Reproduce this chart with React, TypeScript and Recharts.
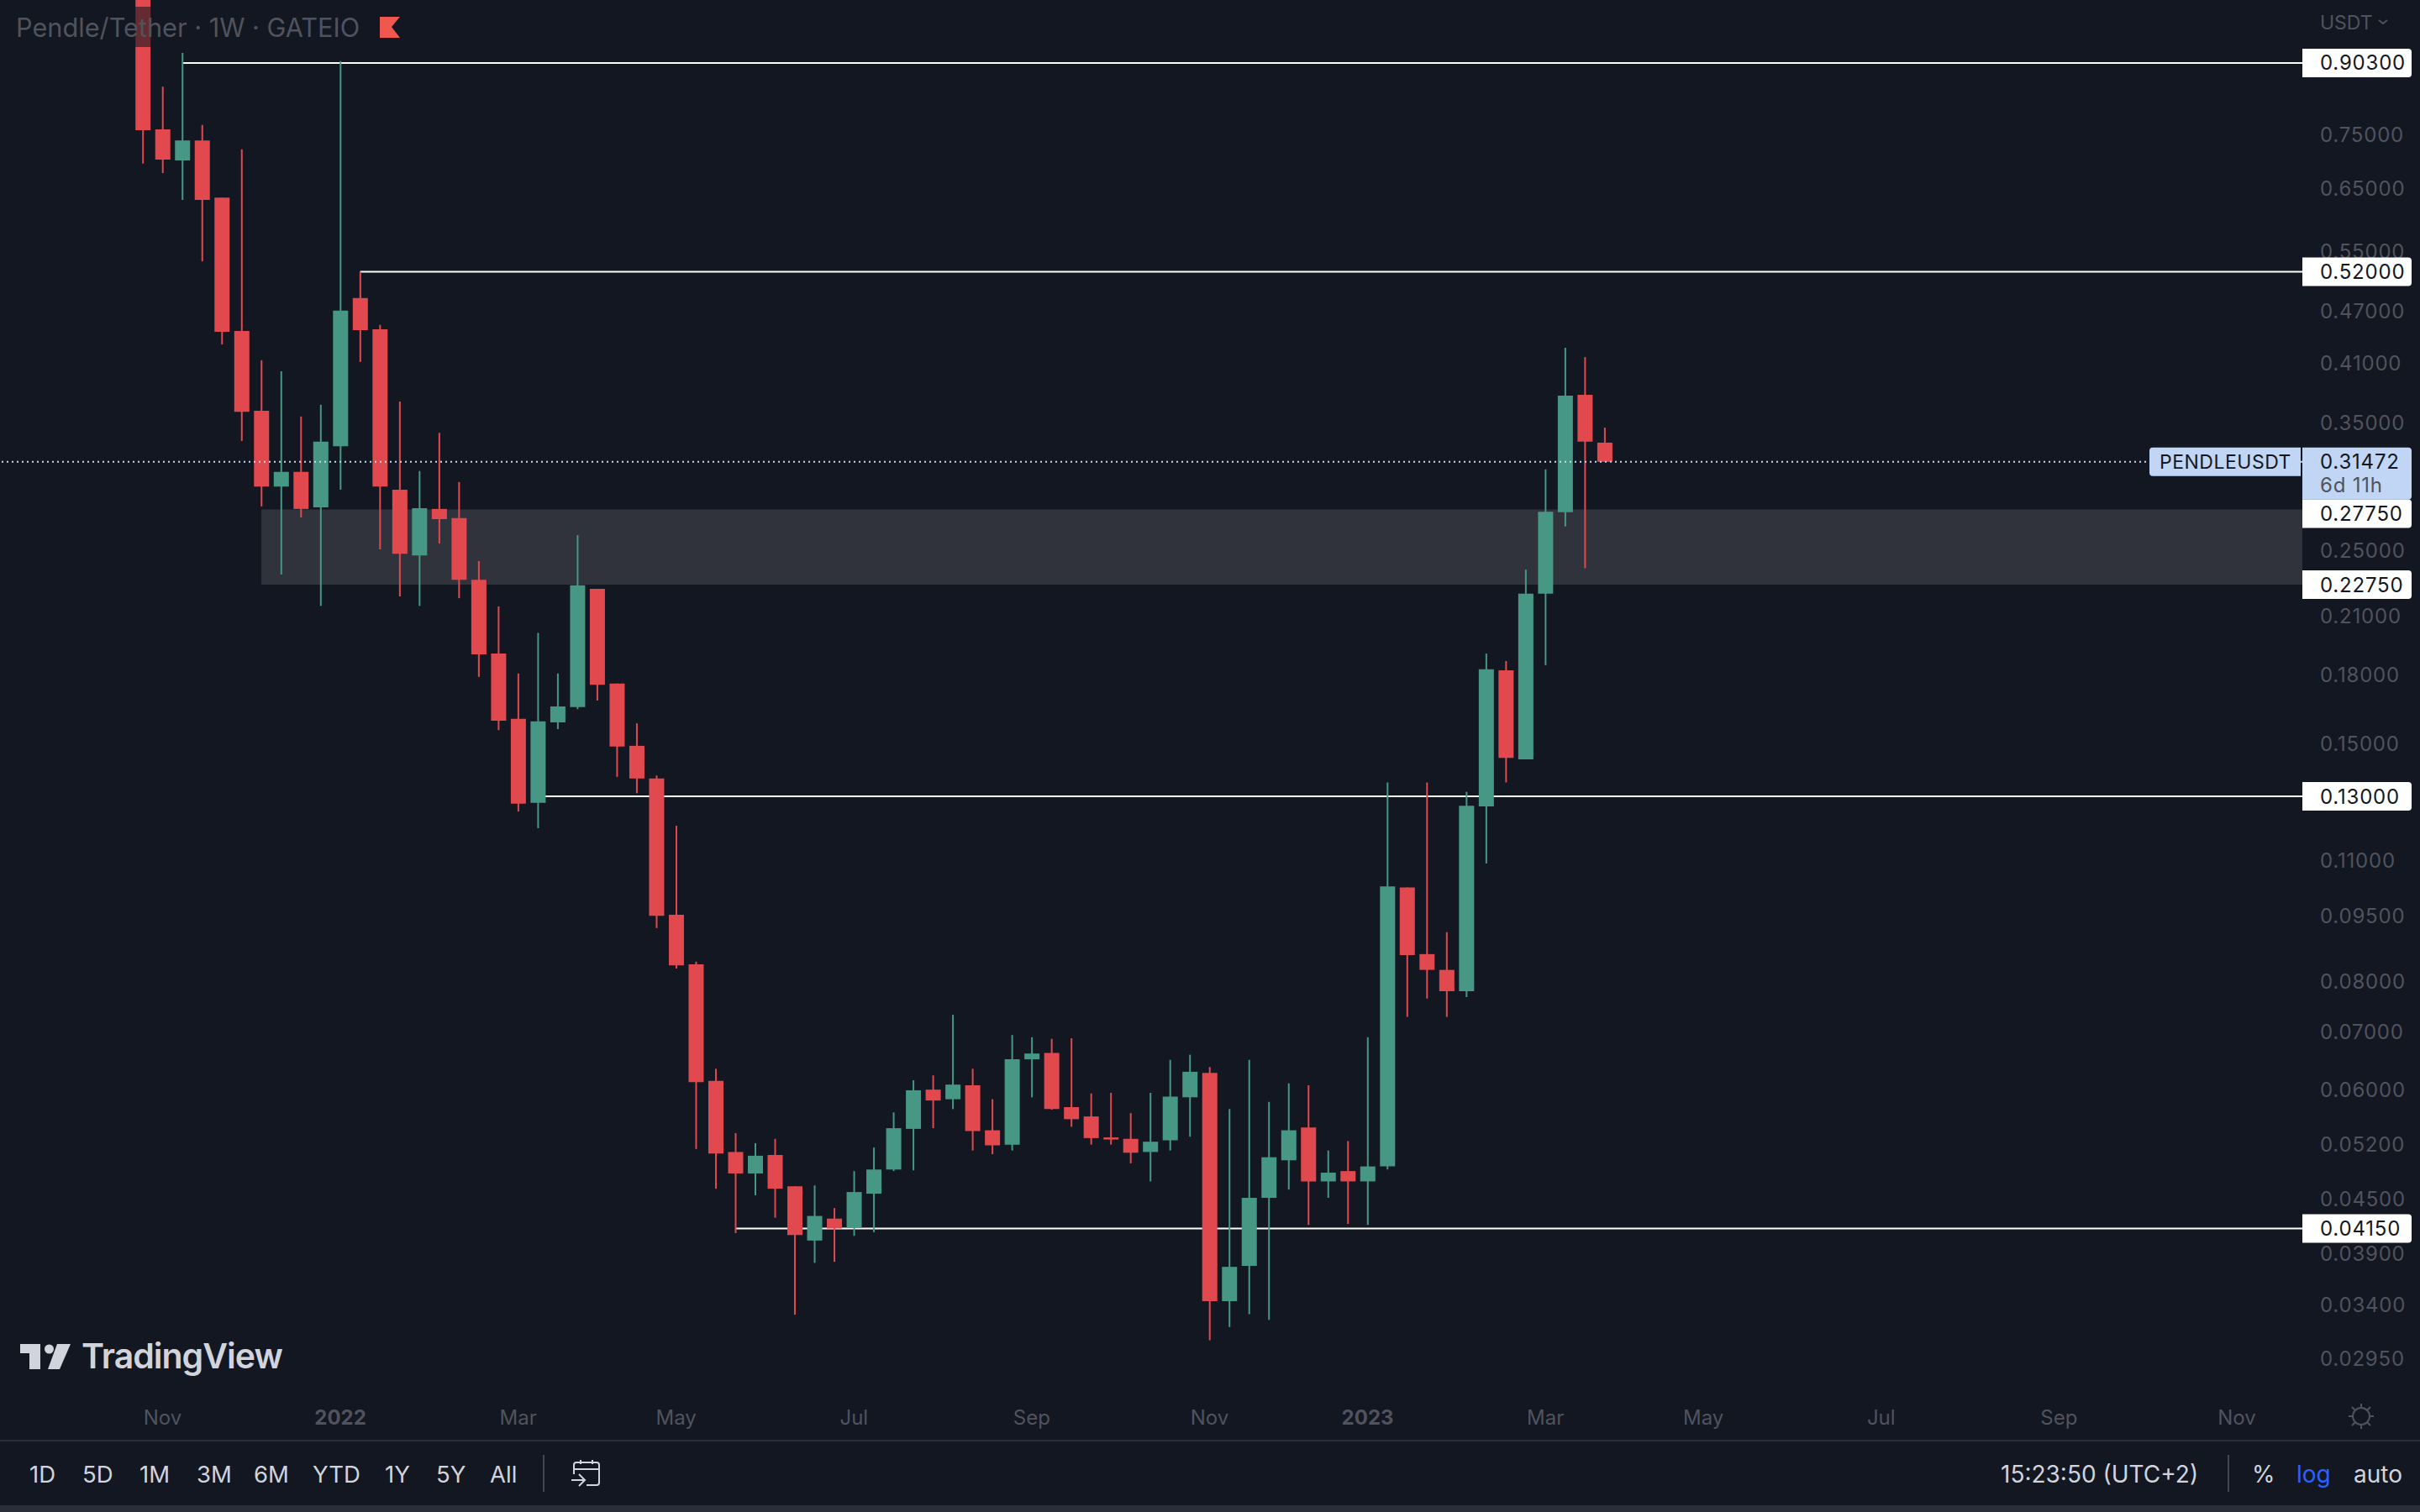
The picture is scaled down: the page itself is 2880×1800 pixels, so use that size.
import { ComposedChart, Bar, Cell, XAxis, YAxis, ReferenceLine, ReferenceArea } from "recharts";

// weekly candles, PENDLE/USDT, oldest first
const opens = [
  1.25, 0.7577, 0.698, 0.7358, 0.6328, 0.4447, 0.3602, 0.2948, 0.3065, 0.279,
  0.3279, 0.4852, 0.4467, 0.2923, 0.2458, 0.2779, 0.2712, 0.2304, 0.1896, 0.1596,
  0.1278, 0.1581, 0.1646, 0.225, 0.1752, 0.1486, 0.1363, 0.0951, 0.0834, 0.0613,
  0.0508, 0.048, 0.0504, 0.0464, 0.0402, 0.0426, 0.0416, 0.0455, 0.0485, 0.054,
  0.0599, 0.0584, 0.0606, 0.0538, 0.0518, 0.0649, 0.066, 0.0572, 0.0558, 0.0528,
  0.0526, 0.0508, 0.0524, 0.0587, 0.0626, 0.03425, 0.0376, 0.045, 0.0497, 0.0542,
  0.047, 0.0483, 0.047, 0.0489, 0.1022, 0.0857, 0.0822, 0.0777, 0.1266, 0.1814,
  0.1434, 0.2221, 0.2755, 0.3757, 0.3311,
];
const closes = [
  0.756, 0.6995, 0.7358, 0.6288, 0.4437, 0.3593, 0.2948, 0.3065, 0.2779, 0.3319,
  0.4694, 0.4457, 0.2948, 0.2469, 0.2785, 0.2705, 0.2304, 0.1892, 0.1588, 0.1275,
  0.1585, 0.1649, 0.2271, 0.1746, 0.1483, 0.1363, 0.0948, 0.0832, 0.0611, 0.0506,
  0.048, 0.0503, 0.0461, 0.0408, 0.0429, 0.0415, 0.0457, 0.0485, 0.0541, 0.0598,
  0.0582, 0.0607, 0.0537, 0.0517, 0.0649, 0.0659, 0.0569, 0.0554, 0.0527, 0.0525,
  0.0507, 0.0522, 0.0588, 0.0628, 0.03425, 0.0375, 0.045, 0.0501, 0.0538, 0.047,
  0.0481, 0.047, 0.0489, 0.1025, 0.0855, 0.0822, 0.0777, 0.1268, 0.1819, 0.1439,
  0.2221, 0.2758, 0.3748, 0.3319, 0.31472,
];
const highs = [
  1.3, 0.8482, 0.9274, 0.7666, 0.6328, 0.7186, 0.4116, 0.3998, 0.3548, 0.366,
  0.9076, 0.52, 0.452, 0.3691, 0.3072, 0.3398, 0.2984, 0.2421, 0.2148, 0.1799,
  0.2003, 0.1799, 0.2593, 0.225, 0.1752, 0.1577, 0.1374, 0.1203, 0.084, 0.0633,
  0.0534, 0.052, 0.0526, 0.0464, 0.0465, 0.0438, 0.0483, 0.0514, 0.0564, 0.0614,
  0.0622, 0.073, 0.0633, 0.0584, 0.0692, 0.0688, 0.0685, 0.0686, 0.0593, 0.0594,
  0.0563, 0.0594, 0.0648, 0.0657, 0.0636, 0.0569, 0.0648, 0.058, 0.0609, 0.0606,
  0.051, 0.0523, 0.0688, 0.1349, 0.1022, 0.1349, 0.0908, 0.1316, 0.1896, 0.1859,
  0.2367, 0.3085, 0.4255, 0.4151, 0.3445,
];
const lows = [
  0.692, 0.6751, 0.6288, 0.5345, 0.4292, 0.3325, 0.2797, 0.2337, 0.2717, 0.2151,
  0.2923, 0.4098, 0.2498, 0.2205, 0.2151, 0.2536, 0.2195, 0.1783, 0.1549, 0.1249,
  0.1195, 0.1553, 0.1637, 0.1675, 0.1369, 0.1311, 0.0918, 0.0825, 0.0512, 0.0461,
  0.041, 0.0453, 0.0427, 0.03305, 0.0379, 0.038, 0.0407, 0.0411, 0.0483, 0.0484,
  0.0541, 0.0569, 0.051, 0.0505, 0.051, 0.0587, 0.0568, 0.0543, 0.0518, 0.0518,
  0.0493, 0.047, 0.051, 0.0529, 0.0309, 0.032, 0.0331, 0.0326, 0.046, 0.0419,
  0.045, 0.042, 0.0419, 0.0485, 0.0726, 0.0762, 0.0726, 0.0765, 0.1089, 0.1349,
  0.1434, 0.1839, 0.2653, 0.2376, 0.31472,
];

const priceTicks = [
  0.75, 0.65, 0.55, 0.47, 0.41, 0.35, 0.25, 0.21, 0.18, 0.15, 0.11, 0.095, 0.08, 0.07, 0.06,
  0.052, 0.045, 0.039, 0.034, 0.0295,
];
const levelValues = [0.903, 0.52, 0.2775, 0.2275, 0.13, 0.0415];
const lastPrice = 0.31472;

// week index of each label on the time axis
const timeTickWeeks = [1, 10, 19, 27, 36, 45, 54, 62, 71, 79, 88, 97, 106];
const timeTickLabels = ["Nov", "2022", "Mar", "May", "Jul", "Sep", "Nov", "2023", "Mar", "May", "Jul", "Sep", "Nov"];

// horizontal levels: value and the week they start from
const levelLines = [
  { value: 0.903, week: 2 },
  { value: 0.52, week: 11 },
  { value: 0.13, week: 20 },
  { value: 0.0415, week: 30 },
];
const zoneTop = 0.2775;
const zoneBottom = 0.2275;
const zoneStartWeek = 6;

const buttons = [
  ["1D", 35], ["5D", 98], ["1M", 166], ["3M", 234], ["6M", 302], ["YTD", 372], ["1Y", 458], ["5Y", 519], ["All", 583],
] as const;

const UP = "#469885";
const DOWN = "#e1494f";
const BG = "#131722";
const MUTED = "#50535e";
const LIGHT = "#d1d4dc";
const FONT = "Inter, sans-serif";

const X_MIN = -7.23;
const X_MAX = 109.32;
const Y_DOMAIN = [0.0263, 1.0665];
const AXIS_LEFT = 2740;
const AXIS_TEXT = 2761;

const rows = opens.map((open, i) => ({
  week: i,
  body: [Math.min(open, closes[i]), Math.max(open, closes[i])],
  wick: [lows[i], highs[i]],
}));
const colors = opens.map((open, i) => (closes[i] >= open ? UP : DOWN));

function PriceTick({ y, payload }: any) {
  return (
    <text x={AXIS_TEXT} y={y + 10} fill={MUTED} fontSize={24} letterSpacing={0.8} fontFamily={FONT}>
      {payload.value.toFixed(5)}
    </text>
  );
}

function TagShape({ top, height, fill }: { top: number; height: number; fill: string }) {
  const l = AXIS_LEFT;
  const r = 2870;
  const b = top + height;
  return <path d={`M${l} ${top}H${r - 4}Q${r} ${top} ${r} ${top + 4}V${b - 4}Q${r} ${b} ${r - 4} ${b}H${l}Z`} fill={fill} />;
}

function TagTick({ y, payload }: any) {
  const value = payload.value;
  if (value === lastPrice) {
    return (
      <g fontFamily={FONT} fontSize={24} letterSpacing={0.8}>
        <path d={`M2562 ${y - 17}H2738V${y + 17}H2562Q2558 ${y + 17} 2558 ${y + 13}V${y - 13}Q2558 ${y - 17} 2562 ${y - 17}Z`} fill="#c1d6f5" />
        <text x={2570} y={y + 8.5} fontSize={23} letterSpacing={0.5} fill={BG}>PENDLEUSDT</text>
        <TagShape top={y - 17} height={62} fill="#c1d6f5" />
        <text x={AXIS_TEXT} y={y + 8.5} fill={BG}>{value.toFixed(5)}</text>
        <text x={AXIS_TEXT} y={y + 36} fill={MUTED}>6d 11h</text>
      </g>
    );
  }
  // the 0.27750 tag gets pushed down by the last price tag
  const cy = value === 0.2775 ? y + 5 : y;
  return (
    <g fontFamily={FONT} fontSize={24} letterSpacing={0.8}>
      <TagShape top={cy - 17} height={34} fill="#ffffff" />
      <text x={AXIS_TEXT} y={cy + 8.5} fill={BG}>{value.toFixed(5)}</text>
    </g>
  );
}

function TimeTick({ x, payload }: any) {
  const label = timeTickLabels[timeTickWeeks.indexOf(payload.value)];
  const bold = label.startsWith("20");
  return (
    <text x={x} y={1696} textAnchor="middle" fill={MUTED} fontSize={24} fontWeight={bold ? 700 : 400} fontFamily={FONT}>
      {label}
    </text>
  );
}

function Label({ x, y, children, color = LIGHT, size = 28 }: any) {
  return (
    <div style={{ position: "absolute", left: x, top: y - size, height: size * 2, lineHeight: `${size * 2}px`, fontSize: size, color, fontFamily: FONT, whiteSpace: "nowrap" }}>
      {children}
    </div>
  );
}

function Overlay() {
  return (
    <>
      {/* legend */}
      <div style={{ position: "absolute", left: 8, top: 8, width: 480, height: 48, background: "rgba(19,23,34,0.6)" }} />
      <Label x={19} y={33} color={MUTED} size={30.7}>Pendle/Tether · 1W · GATEIO</Label>
      <Label x={AXIS_TEXT} y={27} color={MUTED} size={23}>USDT</Label>
      <svg width={2880} height={1800} style={{ position: "absolute", left: 0, top: 0, pointerEvents: "none" }}>
        <path d="M452 20H476L466 32L476 45H452Z" fill="#f0584f" />
        <path d="M2831 24L2836 28L2841 24" fill="none" stroke={MUTED} strokeWidth={2} />
        {/* TradingView mark */}
        <path d="M24 1600H48V1630H35V1611H24Z" fill={LIGHT} />
        <circle cx={58.5} cy={1606} r={5.5} fill={LIGHT} />
        <path d="M68 1600H84L71 1630H57Z" fill={LIGHT} />
        {/* sun */}
        <circle cx={2810} cy={1686} r={10} fill="none" stroke={MUTED} strokeWidth={2} />
        <path d="M2810 1671V1676M2810 1696V1701M2795 1686H2800M2820 1686H2825M2799 1675L2803 1679M2817 1693L2821 1697M2821 1675L2817 1679M2803 1693L2799 1697" stroke={MUTED} strokeWidth={2} />
        {/* separators */}
        <rect x={0} y={1714} width={2880} height={2} fill="#2a2e39" />
        <rect x={0} y={1792} width={2880} height={8} fill="#2a2e39" />
        <rect x={646} y={1732} width={2} height={44} fill="#434651" />
        <rect x={2651} y={1732} width={2} height={44} fill="#434651" />
        {/* calendar */}
        <path d="M683 1755V1744Q683 1741 686 1741H710Q713 1741 713 1744V1765Q713 1768 710 1768H698M683 1749H713M691 1738V1743M705 1738V1743M680 1762H695M689 1755L696 1762L689 1769" fill="none" stroke={LIGHT} strokeWidth={2} />
      </svg>
      {buttons.map(([text, x]) => (
        <Label key={text} x={x} y={1755} size={27.5}>{text}</Label>
      ))}
      <Label x={2381} y={1755}>15:23:50 (UTC+2)</Label>
      <Label x={2680} y={1755}>%</Label>
      <Label x={2733} y={1755} color="#2962ff">log</Label>
      <Label x={2801} y={1755}>auto</Label>
      <Label x={97} y={1614} size={41}><span style={{ fontWeight: 600, letterSpacing: -1 }}>TradingView</span></Label>
    </>
  );
}

export default function App() {
  return (
    <div style={{ position: "absolute", left: 0, top: 0, width: 2880, height: 1800, background: BG, overflow: "hidden" }}>
      <ComposedChart width={2880} height={1800} data={rows} margin={{ top: 0, right: 0, bottom: 0, left: 0 }}>
        <XAxis
          xAxisId="main"
          type="number"
          dataKey="week"
          domain={[X_MIN, X_MAX]}
          allowDataOverflow
          ticks={timeTickWeeks}
          interval={0}
          height={132}
          axisLine={false}
          tickLine={false}
          tick={TimeTick}
        />
        <XAxis xAxisId="wick" type="number" dataKey="week" domain={[X_MIN, X_MAX]} allowDataOverflow hide />
        <YAxis
          yAxisId="price"
          orientation="right"
          scale="log"
          domain={Y_DOMAIN}
          allowDataOverflow
          ticks={priceTicks}
          interval={0}
          width={139}
          axisLine={false}
          tickLine={false}
          tick={PriceTick}
        />
        <YAxis
          yAxisId="tags"
          orientation="right"
          scale="log"
          domain={Y_DOMAIN}
          allowDataOverflow
          ticks={[...levelValues, lastPrice]}
          interval={0}
          width={1}
          axisLine={false}
          tickLine={false}
          tick={TagTick}
        />
        <ReferenceArea
          xAxisId="main"
          yAxisId="price"
          x1={zoneStartWeek}
          x2={X_MAX}
          y1={zoneBottom}
          y2={zoneTop}
          fill="#30333c"
          fillOpacity={1}
          stroke="none"
          zIndex={100}
        />
        {levelLines.map((l) => (
          <ReferenceLine
            key={l.value}
            xAxisId="main"
            yAxisId="price"
            segment={[{ x: l.week, y: l.value }, { x: X_MAX, y: l.value }]}
            stroke="#ffffff"
            strokeWidth={2}
            zIndex={110}
          />
        ))}
        <Bar xAxisId="wick" yAxisId="price" dataKey="wick" barSize={2} isAnimationActive={false} zIndex={300}>
          {rows.map((r) => (
            <Cell key={r.week} fill={colors[r.week]} />
          ))}
        </Bar>
        <Bar xAxisId="main" yAxisId="price" dataKey="body" barSize={18} isAnimationActive={false} zIndex={310}>
          {rows.map((r) => (
            <Cell key={r.week} fill={colors[r.week]} />
          ))}
        </Bar>
        <ReferenceLine
          xAxisId="main"
          yAxisId="price"
          y={lastPrice}
          stroke="#c8d8f0"
          strokeWidth={2}
          strokeDasharray="2 4"
          zIndex={400}
        />
      </ComposedChart>
      <Overlay />
    </div>
  );
}
